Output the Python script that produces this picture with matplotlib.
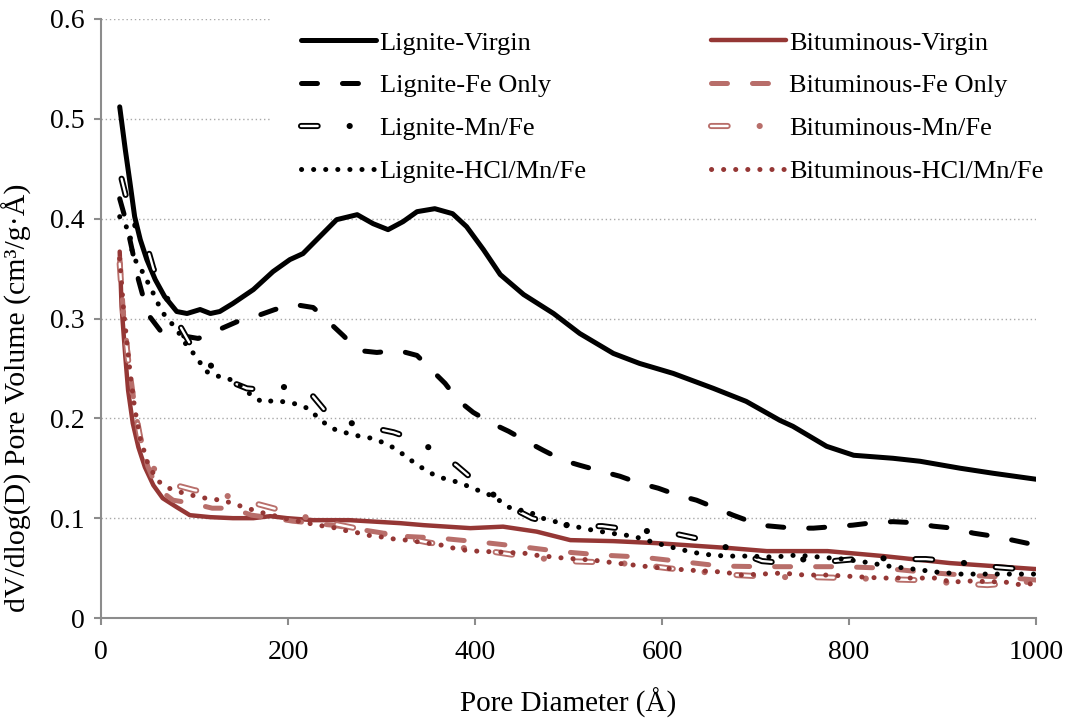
import matplotlib
matplotlib.use("Agg")
import matplotlib.pyplot as plt

plt.rcParams["font.family"] = ["Liberation Serif", "DejaVu Serif"]
plt.rcParams["lines.scale_dashes"] = False

# values: pore diameter (A) vs dV/dlog(D)
lig_virgin_x = [20, 26, 31, 36, 42, 49, 58, 68, 81, 92, 106, 117, 127, 141, 163, 184, 202, 216,
                234, 252, 274, 291, 307, 323, 338, 357, 376, 391, 409, 427, 452, 484, 512, 548,
                576, 612, 655, 690, 726, 740, 776, 805, 847, 876, 919, 954, 1000]
lig_virgin_y = [0.512, 0.469, 0.436, 0.402, 0.379, 0.359, 0.339, 0.322, 0.307, 0.305, 0.309, 0.305,
                0.307, 0.315, 0.329, 0.347, 0.359, 0.365, 0.382, 0.399, 0.404, 0.395, 0.389, 0.397,
                0.407, 0.410, 0.405, 0.392, 0.369, 0.344, 0.324, 0.305, 0.285, 0.265, 0.255, 0.245,
                0.230, 0.217, 0.198, 0.192, 0.172, 0.163, 0.160, 0.157, 0.150, 0.145, 0.139]

lig_fe_x = [20, 26, 33, 40, 45, 52, 65, 85, 104, 124, 146, 165, 186, 207, 227, 243, 259, 275, 295,
            318, 338, 354, 368, 382, 398, 418, 436, 455, 473, 494, 512, 535, 555, 576, 596, 617,
            637, 658, 676, 705, 740, 762, 783, 804, 826, 847, 869, 890, 911, 933, 954, 975, 1000]
lig_fe_y = [0.420, 0.400, 0.370, 0.339, 0.322, 0.302, 0.286, 0.283, 0.280, 0.288, 0.297, 0.302,
            0.309, 0.314, 0.311, 0.297, 0.283, 0.268, 0.266, 0.268, 0.263, 0.248, 0.235, 0.218,
            0.206, 0.195, 0.187, 0.177, 0.168, 0.158, 0.153, 0.147, 0.142, 0.135, 0.130, 0.123,
            0.118, 0.110, 0.103, 0.093, 0.090, 0.090, 0.0915, 0.093, 0.0955, 0.0965, 0.0955,
            0.092, 0.090, 0.085, 0.082, 0.078, 0.073]

lig_mnfe_x = [22, 30, 40, 49, 56, 66, 80, 95, 115, 135, 156, 179, 204, 226, 242, 264, 288, 313,
              338, 359, 380, 400, 419, 440, 461, 486, 510, 536, 561, 585, 611, 636, 660, 684,
              707, 732, 758, 783, 807, 831, 857, 882, 908, 932, 957, 983, 1000]
lig_mnfe_y = [0.440, 0.410, 0.385, 0.373, 0.350, 0.330, 0.300, 0.275, 0.255, 0.238, 0.230, 0.228,
              0.233, 0.223, 0.205, 0.196, 0.191, 0.186, 0.178, 0.166, 0.153, 0.137, 0.124, 0.110,
              0.100, 0.094, 0.092, 0.092, 0.089, 0.087, 0.085, 0.080, 0.074, 0.065, 0.057, 0.055,
              0.060, 0.057, 0.059, 0.060, 0.059, 0.059, 0.057, 0.054, 0.051, 0.049, 0.045]

lig_hcl_x = [20, 26, 31, 34, 42, 54, 65, 72, 81, 93, 102, 111, 120, 133, 145, 161, 173, 186, 199,
             211, 221, 232, 242, 252, 264, 277, 290, 301, 312, 323, 333, 344, 355, 366, 378, 390,
             403, 414, 424, 438, 449, 461, 472, 496, 520, 545, 569, 594, 618, 643, 668, 694, 719,
             744, 769, 794, 817, 842, 869, 894, 919, 944, 969, 1000]
lig_hcl_y = [0.402, 0.394, 0.384, 0.362, 0.351, 0.329, 0.307, 0.299, 0.289, 0.271, 0.262, 0.248,
             0.243, 0.241, 0.236, 0.223, 0.216, 0.218, 0.216, 0.214, 0.210, 0.201, 0.193, 0.188,
             0.185, 0.182, 0.180, 0.176, 0.171, 0.164, 0.157, 0.150, 0.144, 0.140, 0.137, 0.133,
             0.128, 0.124, 0.119, 0.110, 0.108, 0.105, 0.100, 0.094, 0.089, 0.085, 0.082, 0.075,
             0.069, 0.064, 0.062, 0.062, 0.061, 0.063, 0.061, 0.059, 0.056, 0.052, 0.049, 0.046,
             0.044, 0.044, 0.044, 0.044]

bit_virgin_x = [20, 22, 26, 29, 34, 40, 47, 56, 66, 81, 95, 117, 141, 163, 181, 199, 227, 266,
                302, 320, 345, 395, 430, 466, 502, 548, 594, 641, 673, 712, 777, 837, 908, 1000]
bit_virgin_y = [0.367, 0.312, 0.262, 0.228, 0.195, 0.171, 0.151, 0.133, 0.120, 0.111, 0.103, 0.101,
                0.100, 0.100, 0.102, 0.100, 0.098, 0.098, 0.096, 0.095, 0.093, 0.090, 0.0915,
                0.0865, 0.078, 0.077, 0.075, 0.072, 0.070, 0.067, 0.067, 0.062, 0.055, 0.049]

bit_fe_x = [20, 24, 30, 36, 42, 50, 60, 77, 97, 119, 140, 161, 185, 205, 226, 247, 275, 302, 320,
            362, 406, 449, 492, 536, 578, 621, 663, 707, 750, 793, 836, 879, 922, 964, 1000]
bit_fe_y = [0.360, 0.305, 0.255, 0.212, 0.180, 0.152, 0.130, 0.118, 0.115, 0.110, 0.110, 0.103,
            0.100, 0.097, 0.095, 0.093, 0.089, 0.085, 0.082, 0.080, 0.076, 0.0715, 0.0665, 0.063,
            0.061, 0.0565, 0.052, 0.0514, 0.0514, 0.0514, 0.050, 0.046, 0.043, 0.041, 0.038]

bit_mnfe_x = [20, 24, 30, 36, 42, 50, 58, 66, 80, 100, 128, 160, 200, 230, 272, 300, 348, 380,
              422, 450, 496, 530, 572, 605, 645, 680, 721, 760, 798, 835, 872, 910, 948, 975, 1000]
bit_mnfe_y = [0.355, 0.300, 0.250, 0.210, 0.180, 0.157, 0.148, 0.140, 0.133, 0.128, 0.124, 0.116,
              0.106, 0.098, 0.090, 0.085, 0.076, 0.071, 0.066, 0.062, 0.057, 0.056, 0.054, 0.050,
              0.046, 0.043, 0.041, 0.041, 0.040, 0.039, 0.038, 0.035, 0.033, 0.035, 0.037]

bit_hcl_x = [20, 24, 30, 36, 42, 50, 60, 70, 81, 93, 106, 118, 131, 142, 154, 166, 179, 200, 232,
             252, 264, 277, 290, 302, 314, 327, 364, 377, 389, 402, 439, 452, 464, 495, 526, 551,
             589, 601, 628, 666, 685, 728, 753, 778, 815, 835, 855, 892, 910, 929, 967, 985, 1000]
bit_hcl_y = [0.360, 0.310, 0.255, 0.210, 0.180, 0.155, 0.138, 0.131, 0.127, 0.124, 0.121, 0.119,
             0.118, 0.114, 0.111, 0.107, 0.104, 0.099, 0.093, 0.090, 0.087, 0.085, 0.082, 0.081,
             0.079, 0.078, 0.073, 0.070, 0.068, 0.067, 0.0655, 0.065, 0.063, 0.060, 0.058, 0.055,
             0.051, 0.050, 0.048, 0.046, 0.043, 0.045, 0.043, 0.043, 0.041, 0.040, 0.040, 0.040,
             0.036, 0.037, 0.036, 0.033, 0.035]

labels = ["Lignite-Virgin", "Lignite-Fe Only", "Lignite-Mn/Fe", "Lignite-HCl/Mn/Fe",
          "Bituminous-Virgin", "Bituminous-Fe Only", "Bituminous-Mn/Fe", "Bituminous-HCl/Mn/Fe"]
x_ticks = [0, 200, 400, 600, 800, 1000]
y_ticks = [0, 0.1, 0.2, 0.3, 0.4, 0.5, 0.6]
y_tick_labels = ["0", "0.1", "0.2", "0.3", "0.4", "0.5", "0.6"]

BLACK = "#000000"
DARK_RED = "#953735"
LIGHT_RED = "#B86E6A"
AXIS_GREY = "#8C8C8C"

# dash patterns in points (scale_dashes off)
DASH = (0, (11.5, 18.0))
DOT = (0, (0.1, 8.6))
HOLLOW_OUT = (0, (12.0, 23.0, 0.1, 23.0))
HOLLOW_IN = (0, (12.0, 46.1))


def solid(ax, x, y, color, lw):
    return ax.plot(x, y, color=color, lw=lw, solid_capstyle="round", solid_joinstyle="round")[0]


def styled(ax, x, y, color, ls, lw=3.6):
    return ax.plot(x, y, color=color, lw=lw, linestyle=ls,
                   dash_capstyle="round", dash_joinstyle="round")[0]


def hollow(ax, x, y, color):
    # outlined dash + dot: dark stroke with a thin white core on the dash only
    outer = styled(ax, x, y, color, HOLLOW_OUT, lw=4.4)
    inner = styled(ax, x, y, "white", HOLLOW_IN, lw=1.7)
    return (outer, inner)


fig = plt.figure(figsize=(10.68, 7.19), dpi=100)
ax = fig.add_axes([101 / 1068, 1 - 618 / 719, 935 / 1068, 599 / 719])

# bituminous drawn first, lignite on top
h_bv = solid(ax, bit_virgin_x, bit_virgin_y, DARK_RED, 3.2)
h_bf = styled(ax, bit_fe_x, bit_fe_y, LIGHT_RED, DASH)
h_bm = hollow(ax, bit_mnfe_x, bit_mnfe_y, LIGHT_RED)
h_bh = styled(ax, bit_hcl_x, bit_hcl_y, DARK_RED, DOT)

h_lv = solid(ax, lig_virgin_x, lig_virgin_y, BLACK, 3.6)
h_lf = styled(ax, lig_fe_x, lig_fe_y, BLACK, DASH)
h_lm = hollow(ax, lig_mnfe_x, lig_mnfe_y, BLACK)
h_lh = styled(ax, lig_hcl_x, lig_hcl_y, BLACK, DOT)

ax.set_xlim(0, 1000)
ax.set_ylim(0, 0.6)
ax.set_xticks(x_ticks)
ax.set_yticks(y_ticks)
ax.set_yticklabels(y_tick_labels)

ax.yaxis.grid(True, color="#A8A8A8", linestyle=(0, (1.0, 2.0)), linewidth=1.0)
ax.set_axisbelow(True)

for side in ["top", "right"]:
    ax.spines[side].set_visible(False)
for side in ["left", "bottom"]:
    ax.spines[side].set_color(AXIS_GREY)
    ax.spines[side].set_linewidth(1.5)

ax.tick_params(axis="both", direction="out", length=5, width=1.5, color=AXIS_GREY,
               labelsize=20, labelcolor="black")
ax.tick_params(axis="x", pad=11)
ax.tick_params(axis="y", pad=7)

ax.set_xlabel("Pore Diameter (Å)", fontsize=21)
ax.xaxis.set_label_coords(0.5, -0.117)
ax.xaxis.label.set_va("top")
ax.set_ylabel("dV/dlog(D) Pore Volume (cm³/g·Å)", fontsize=21.5)
ax.yaxis.set_label_coords(-0.074, 0.368)

leg = ax.legend([h_lv, h_lf, h_lm, h_lh, h_bv, h_bf, h_bm, h_bh], labels,
                ncol=2, loc="upper left", bbox_to_anchor=(0.183, 1.028),
                fontsize=19, frameon=True, facecolor="white", edgecolor="none",
                framealpha=1, fancybox=False, borderpad=1.1, borderaxespad=0,
                handlelength=2.85, handletextpad=0.12, labelspacing=0.73,
                columnspacing=4.7)
# legend box hides the gridlines but sits under the curves
leg.set_zorder(1.5)

fig.savefig("out.png", dpi=100)
